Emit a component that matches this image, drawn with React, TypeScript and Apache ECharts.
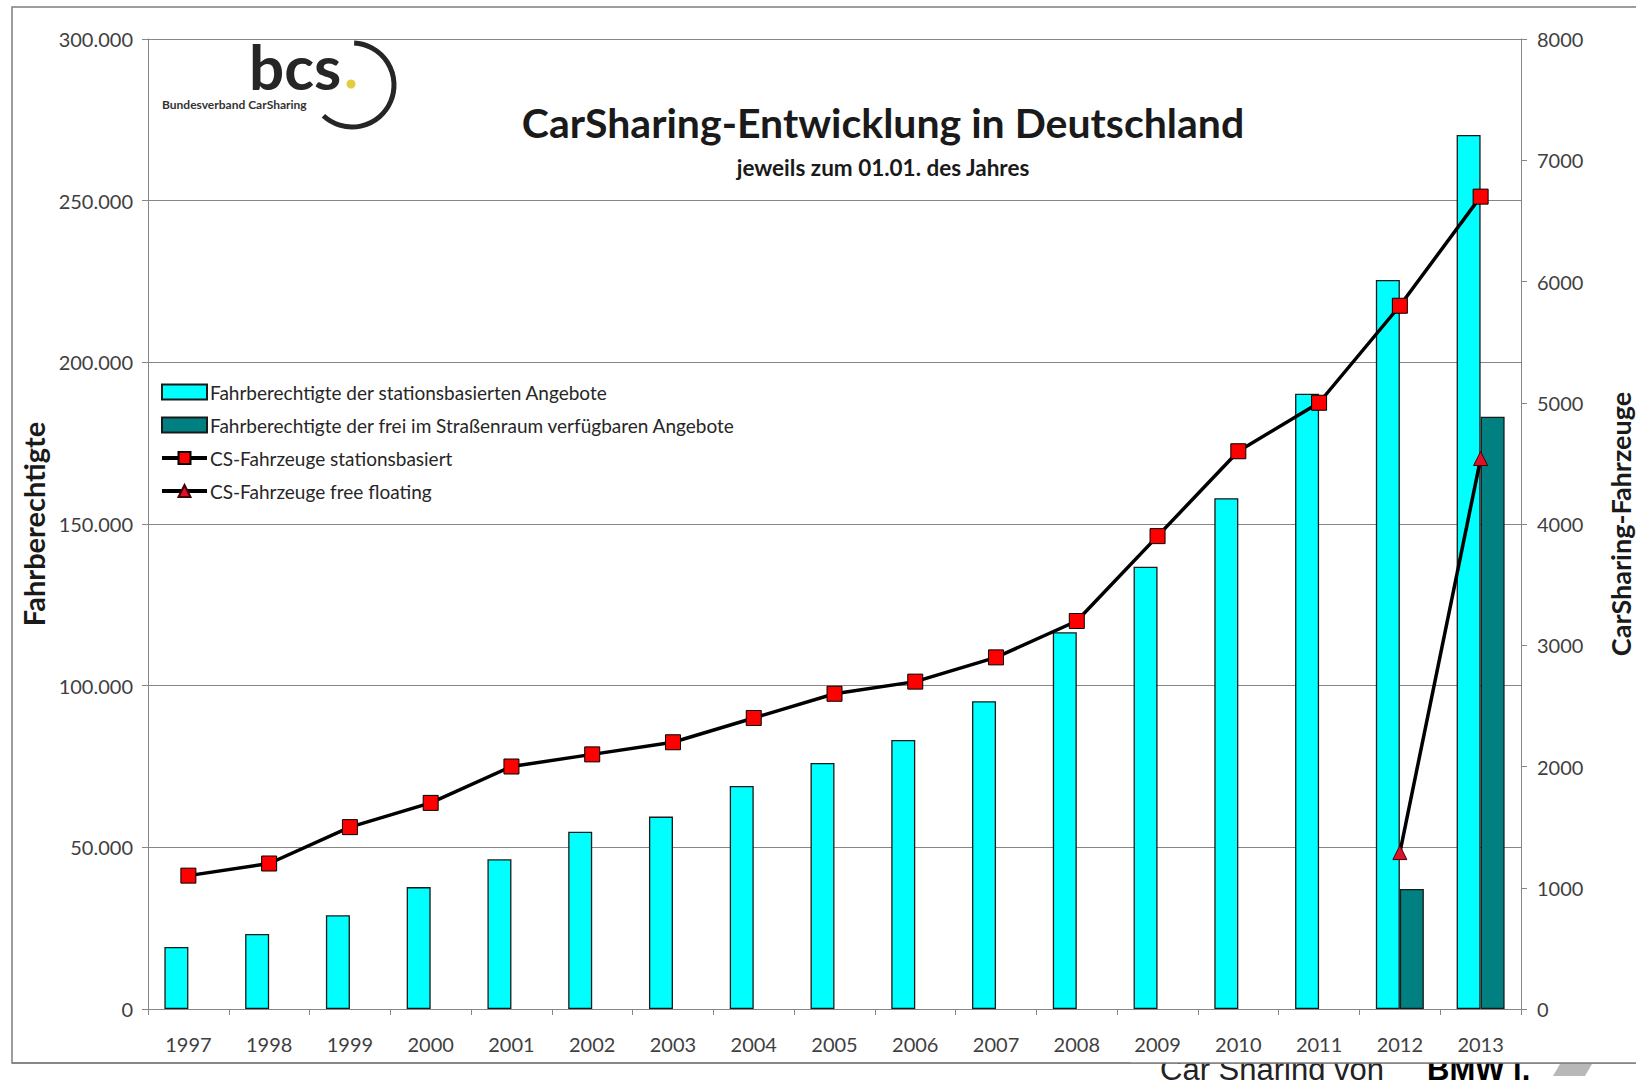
import React, { useEffect, useRef } from "react";
import * as echarts from "echarts";

const years = ["1997", "1998", "1999", "2000", "2001", "2002", "2003", "2004", "2005", "2006", "2007", "2008", "2009", "2010", "2011", "2012", "2013"];
const stationBasedUsers = [19200, 23200, 29000, 37700, 46300, 54800, 59500, 69000, 76100, 83200, 95200, 116500, 136800, 158000, 190300, 225500, 270300];
const freeFloatingUsers = [null, null, null, null, null, null, null, null, null, null, null, null, null, null, null, 37100, 183200];
const stationVehicles = [1100, 1200, 1500, 1700, 2000, 2100, 2200, 2400, 2600, 2700, 2900, 3200, 3900, 4600, 5000, 5800, 6700];
const freeFloatingVehicles = [null, null, null, null, null, null, null, null, null, null, null, null, null, null, null, 1290, 4540];

const seriesNames = [
  "Fahrberechtigte der stationsbasierten Angebote",
  "Fahrberechtigte der frei im Straßenraum verfügbaren Angebote",
  "CS-Fahrzeuge stationsbasiert",
  "CS-Fahrzeuge free floating",
];

const FONT = "Lato, 'Open Sans', sans-serif";

function fmtDE(v: number) {
  return String(v).replace(/\B(?=(\d{3})+(?!\d))/g, ".");
}

export default function App() {
  const ref = useRef<HTMLDivElement>(null);
  useEffect(() => {
    if (!ref.current) return;
    const chart = echarts.init(ref.current, undefined, { renderer: "svg" });
    const axisLabelStyle = { fontFamily: FONT, fontSize: 20, color: "#3f3f3f", lineHeight: 16 };
    chart.setOption({
      animation: false,
      backgroundColor: "#ffffff",
      title: [
        {
          text: "CarSharing-Entwicklung in Deutschland",
          left: 883,
          top: 102,
          padding: 0,
          textAlign: "center",
          textStyle: { fontFamily: FONT, fontSize: 41, fontWeight: "bold", color: "#1a1a1a", lineHeight: 40 },
        },
        {
          text: "jeweils zum 01.01. des Jahres",
          left: 883,
          top: 156,
          padding: 0,
          textAlign: "center",
          textStyle: { fontFamily: FONT, fontSize: 22.5, fontWeight: "bold", color: "#1a1a1a", lineHeight: 22 },
        },
      ],
      legend: {
        orient: "vertical",
        left: 160,
        top: 382,
        itemGap: 13,
        itemWidth: 45,
        itemHeight: 15,
        padding: 0,
        data: [
          { name: seriesNames[0], icon: "rect" },
          { name: seriesNames[1], icon: "rect" },
          { name: seriesNames[2] },
          { name: seriesNames[3] },
        ],
        lineStyle: { width: 4 },
        textStyle: { fontFamily: FONT, fontSize: 19, color: "#262626", lineHeight: 20, padding: [0, 0, 0, -2] },
      },
      grid: { left: 148, right: 115, top: 39, bottom: 71, containLabel: false, outerBoundsMode: "none" },
      xAxis: {
        type: "category",
        data: years,
        boundaryGap: true,
        axisLine: { lineStyle: { color: "#868686", width: 1 } },
        axisTick: { show: true, length: 6, lineStyle: { color: "#868686" } },
        axisLabel: { ...axisLabelStyle, margin: 27 },
        z: 10,
      },
      yAxis: [
        {
          type: "value",
          min: 0,
          max: 300000,
          interval: 50000,
          name: "Fahrberechtigte",
          nameLocation: "middle",
          nameGap: 92,
          nameTextStyle: { fontFamily: FONT, fontSize: 29, fontWeight: "bold", color: "#1a1a1a" },
          axisLine: { show: true, lineStyle: { color: "#868686", width: 1 } },
          axisTick: { show: true, length: 6, lineStyle: { color: "#868686" } },
          axisLabel: { ...axisLabelStyle, margin: 15, formatter: (v: number) => fmtDE(v) },
          splitLine: { show: true, lineStyle: { color: "#868686", width: 1 } },
        },
        {
          type: "value",
          min: 0,
          max: 8000,
          interval: 1000,
          position: "right",
          name: "CarSharing-Fahrzeuge",
          nameLocation: "middle",
          nameGap: 86,
          nameTextStyle: { fontFamily: FONT, fontSize: 27, fontWeight: "bold", color: "#1a1a1a" },
          axisLine: { show: true, lineStyle: { color: "#868686", width: 1 } },
          axisTick: { show: true, length: 6, lineStyle: { color: "#868686" } },
          axisLabel: { ...axisLabelStyle, margin: 16, formatter: (v: number) => String(v) },
          splitLine: { show: false },
        },
      ],
      series: [
        {
          name: seriesNames[0],
          type: "bar",
          yAxisIndex: 0,
          data: stationBasedUsers,
          barWidth: 24,
          barGap: "0%",
          itemStyle: { color: "#00ffff", borderColor: "#1a1a1a", borderWidth: 1.3 },
        },
        {
          name: seriesNames[1],
          type: "bar",
          yAxisIndex: 0,
          data: freeFloatingUsers,
          barWidth: 24,
          barGap: "0%",
          itemStyle: { color: "#008080", borderColor: "#1a1a1a", borderWidth: 1.3 },
        },
        {
          name: seriesNames[2],
          type: "line",
          yAxisIndex: 1,
          data: stationVehicles,
          symbol: "rect",
          symbolSize: 15,
          z: 5,
          lineStyle: { color: "#000000", width: 3.5 },
          itemStyle: { color: "#ff0000", borderColor: "#000000", borderWidth: 1 },
        },
        {
          name: seriesNames[3],
          type: "line",
          yAxisIndex: 1,
          data: freeFloatingVehicles,
          symbol: "triangle",
          symbolSize: 14,
          z: 5,
          connectNulls: false,
          lineStyle: { color: "#000000", width: 3.5 },
          itemStyle: { color: "#e0102a", borderColor: "#400000", borderWidth: 1 },
        },
      ],
      graphic: [
        {
          type: "rect",
          z: -10,
          shape: { x: 12, y: 7, width: 1700, height: 1056 },
          style: { fill: "none", stroke: "#7f7f7f", lineWidth: 1.5 },
        },
        {
          type: "arc",
          shape: { cx: 352, cy: 85, r: 42, startAngle: -1.52, endAngle: 2.32, clockwise: true },
          style: { fill: "none", stroke: "#262626", lineWidth: 5 },
        },
        {
          type: "text",
          style: { text: "bcs", x: 249, y: 66, font: `bold 62px ${FONT}`, fill: "#262626", textAlign: "left", textVerticalAlign: "middle" },
        },
        {
          type: "circle",
          shape: { cx: 351, cy: 84, r: 4.5 },
          style: { fill: "#e2cd3f" },
        },
        {
          type: "text",
          style: { text: "Bundesverband CarSharing", x: 162, y: 104, font: `bold 12px ${FONT}`, fill: "#333333", textAlign: "left", textVerticalAlign: "middle" },
        },
        {
          type: "text",
          style: { text: "Car Sharing von", x: 1160, y: 1069, font: "31px 'Liberation Sans', sans-serif", lineHeight: 20, fill: "#222222", textAlign: "left", textVerticalAlign: "middle" },
        },
        {
          type: "text",
          style: { text: "BMW i.", x: 1427, y: 1069, font: "bold 31px 'Liberation Sans', sans-serif", lineHeight: 20, fill: "#000000", textAlign: "left", textVerticalAlign: "middle" },
        },
        {
          type: "polygon",
          shape: { points: [[1553, 1076], [1560, 1064], [1592, 1064], [1585, 1076]] },
          style: { fill: "#b8b8b8" },
        },
        {
          type: "rect",
          shape: { x: 1130, y: 1053, width: 506, height: 10 },
          style: { fill: "#ffffff" },
        },
        {
          type: "line",
          shape: { x1: 12, y1: 1063, x2: 1636, y2: 1063 },
          style: { stroke: "#7f7f7f", lineWidth: 1.5 },
        },
      ],
    });
    return () => chart.dispose();
  }, []);
  return <div ref={ref} style={{ position: "fixed", left: 0, top: 0, width: 1636, height: 1080, background: "#fff" }} />;
}
